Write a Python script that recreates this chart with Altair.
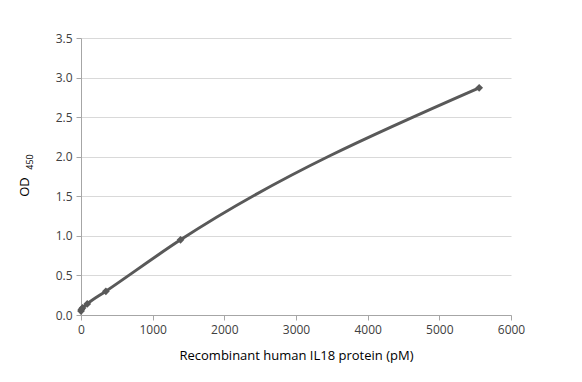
import altair as alt
import pandas as pd

conc = [0, 5.4, 21.7, 86.8, 347, 1389, 5556]
od = [0.05, 0.07, 0.09, 0.14, 0.30, 0.95, 2.87]

df = pd.DataFrame({"conc": conc, "od": od})

FONT = "Open Sans"
GREY = "#595959"

x = alt.X("conc:Q", title="Recombinant human IL18 protein (pM)",
          scale=alt.Scale(domain=[0, 6000], nice=False),
          axis=alt.Axis(values=[0, 1000, 2000, 3000, 4000, 5000, 6000], grid=False,
                        format="d", titlePadding=14, labelFlush=False))
y = alt.Y("od:Q", title=None,
          scale=alt.Scale(domain=[0, 3.5], nice=False),
          axis=alt.Axis(values=[0, 0.5, 1, 1.5, 2, 2.5, 3, 3.5], format=".1f", grid=True,
                        labelFlush=False))

line = alt.Chart(df).mark_line(color=GREY, strokeWidth=3, interpolate="monotone").encode(x=x, y=y)
pts = alt.Chart(df).mark_point(shape="diamond", filled=True, color=GREY, size=60, opacity=1).encode(x=x, y=y)

t1 = alt.Chart(pd.DataFrame({"t": ["OD"]})).mark_text(
    angle=270, font=FONT, fontSize=13, color="#000000", align="center", baseline="middle"
).encode(text="t:N", x=alt.value(-56), y=alt.value(149))
t2 = alt.Chart(pd.DataFrame({"t": ["450"]})).mark_text(
    angle=270, font=FONT, fontSize=9, color="#000000", align="center", baseline="middle"
).encode(text="t:N", x=alt.value(-51), y=alt.value(124))

chart = alt.layer(line, pts, t1, t2).properties(
    width=430, height=277,
    background="white",
    autosize=alt.AutoSizeParams(type="none"),
    padding={"left": 73, "top": 30, "right": 60, "bottom": 60},
).configure_view(stroke=None).configure_axis(
    labelFont=FONT, titleFont=FONT, labelFontSize=12, titleFontSize=13,
    titleFontWeight="normal", labelColor="#404040", titleColor="#000000",
    domainColor="#a6a6a6", tickColor="#a6a6a6", gridColor="#d9d9d9",
    tickSize=5, labelPadding=4,
)

chart.save("out.html", embed_options={"renderer": "svg", "actions": False})
